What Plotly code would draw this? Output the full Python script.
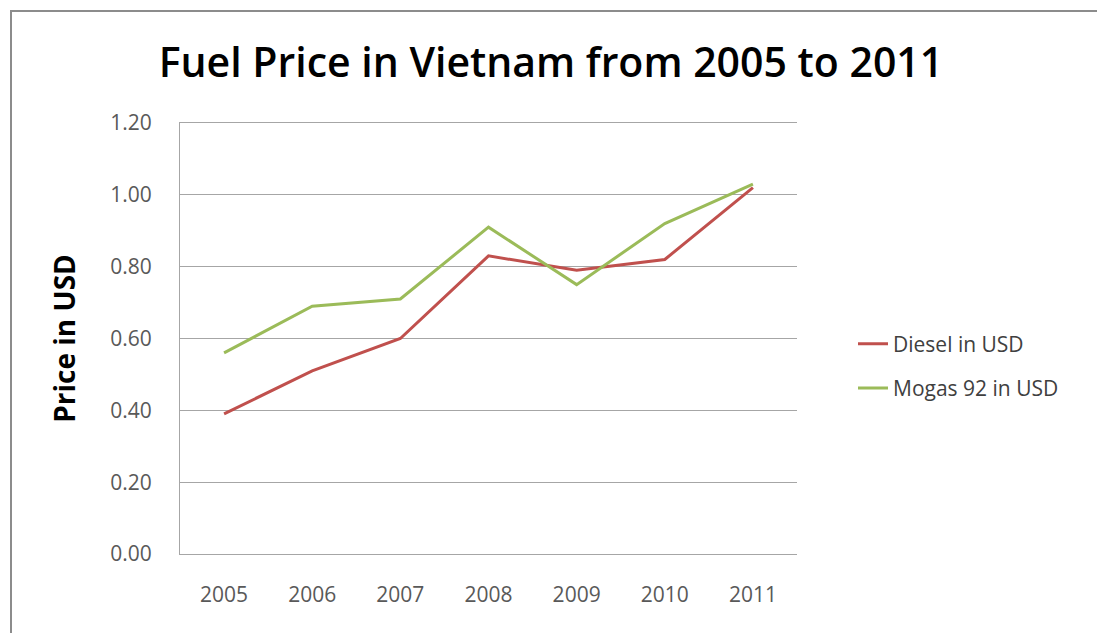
import plotly.graph_objects as go

years = ["2005", "2006", "2007", "2008", "2009", "2010", "2011"]
diesel_usd = [0.39, 0.51, 0.60, 0.83, 0.79, 0.82, 1.02]
mogas92_usd = [0.56, 0.69, 0.71, 0.91, 0.75, 0.92, 1.03]
y_ticks = [0.0, 0.2, 0.4, 0.6, 0.8, 1.0, 1.2]
y_tick_labels = ["0.00", "0.20", "0.40", "0.60", "0.80", "1.00", "1.20"]

W, H = 1097, 633
L, R, T, B = 180, 300, 123, 79
pw, ph = W - L - R, H - T - B

def px(x):
    return (x - L) / pw

def py(y):
    return (H - B - y) / ph

font_family = "Open Sans, Lato, Liberation Sans, sans-serif"

fig = go.Figure()
fig.add_trace(go.Scatter(x=years, y=diesel_usd, mode="lines", name="Diesel in USD",
                         legendgroup="d",
                         line=dict(color="#C0504D", width=3)))
fig.add_trace(go.Scatter(x=years, y=mogas92_usd, mode="lines", name="Mogas 92 in USD",
                         legendgroup="m",
                         line=dict(color="#9BBB59", width=3)))

fig.update_layout(
    width=W, height=H,
    margin=dict(l=L, r=R, t=T, b=B, pad=0),
    paper_bgcolor="white", plot_bgcolor="white",
    font=dict(family=font_family, color="#595959"),
    title=dict(text="Fuel Price in Vietnam from 2005 to 2011",
               x=px(551), xref="paper", xanchor="center",
               y=1 - 63 / H, yanchor="middle",
               font=dict(size=41, color="black", family=font_family, weight=600)),
    showlegend=True,
    legend=dict(x=px(853), y=py(366), xanchor="left", yanchor="middle",
                font=dict(size=21, color="#404040"), bgcolor="rgba(0,0,0,0)",
                traceorder="grouped", tracegroupgap=14),
    xaxis=dict(type="category", range=[-0.5, 6.5], showgrid=False,
               showline=True, mirror=True, linecolor="#A6A6A6", linewidth=1,
               ticks="", tickfont=dict(size=21, color="#595959"),
               ticklabelstandoff=22),
    yaxis=dict(range=[0, 1.2], tickvals=y_ticks, ticktext=y_tick_labels,
               showgrid=True, gridcolor="#A6A6A6", gridwidth=1,
               showline=True, linecolor="#A6A6A6", linewidth=1, ticks="",
               zeroline=False, tickfont=dict(size=21, color="#595959"),
               ticklabelstandoff=23,
               title=dict(text="<b>Price in USD</b>", standoff=26,
                          font=dict(size=28, color="black"))),
)

fig.add_shape(type="rect", xref="paper", yref="paper",
              x0=px(11), x1=px(W + 5), y0=py(H + 5), y1=py(11),
              line=dict(color="#8C8C8C", width=2), fillcolor="rgba(0,0,0,0)",
              layer="below")

fig.write_html("out.html")
